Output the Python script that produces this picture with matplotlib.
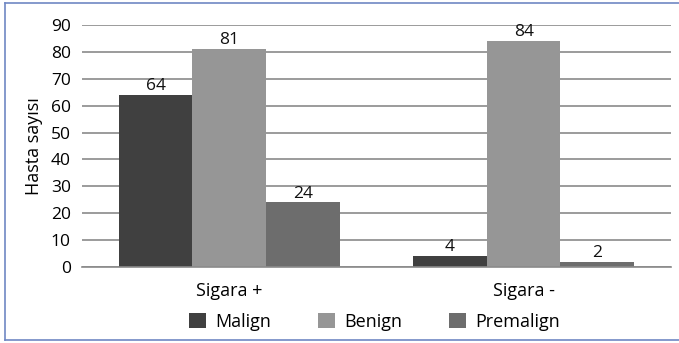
import matplotlib.pyplot as plt
import numpy as np
from matplotlib.lines import Line2D

plt.rcParams['font.family'] = ['Open Sans', 'DejaVu Sans']

# Patient counts by smoking status
groups = ['Sigara +', 'Sigara -']
series = ['Malign', 'Benign', 'Premalign']
malign = [64, 4]
benign = [81, 84]
premalign = [24, 2]
colors = ['#404040', '#969696', '#6d6d6d']
yticks = [0, 10, 20, 30, 40, 50, 60, 70, 80, 90]

fig = plt.figure(figsize=(6.79, 3.43), dpi=100)
ax = fig.add_axes([0.1208, 0.2216, 0.8672, 0.7055])

x = np.arange(len(groups))
width = 0.25
for i, (name, vals, c) in enumerate(zip(series, [malign, benign, premalign], colors)):
    pos = x + (i - 1) * width
    ax.bar(pos, vals, width, color=c, label=name, zorder=2)
    for px, v in zip(pos, vals):
        ax.text(px, v + 0.3, str(v), ha='center', va='bottom', fontsize=12.5, color='#111111')

ax.set_xlim(-0.5, 1.5)
ax.set_ylim(0, 90)
ax.set_yticks(yticks)
ax.set_xticks(x)
ax.set_xticklabels(groups, fontsize=13)
ax.tick_params(axis='y', labelsize=12.5, length=0, pad=8)
ax.tick_params(axis='x', length=0, pad=11)
ax.yaxis.grid(True, color='#8a8a8a', linewidth=1.2, zorder=0)
ax.set_axisbelow(True)
for s in ['left', 'right', 'top']:
    ax.spines[s].set_visible(False)
ax.spines['bottom'].set_color('#8a8a8a')
ax.spines['bottom'].set_linewidth(1.2)
ax.set_ylabel('Hasta sayısı', fontsize=13, labelpad=6)

ax.legend(loc='upper center', bbox_to_anchor=(0.497, -0.122), ncol=3, frameon=False,
          fontsize=13, handlelength=0.95, handleheight=0.95, columnspacing=2.6, handletextpad=0.5)

# Outer frame: left, top and bottom edges
frame = dict(color='#7088c4', linewidth=1.2, transform=fig.transFigure)
fig.lines.append(Line2D([0.0075, 1.0], [0.991, 0.991], **frame))
fig.lines.append(Line2D([0.0075, 1.0], [0.009, 0.009], **frame))
fig.lines.append(Line2D([0.0075, 0.0075], [0.009, 0.991], **frame))

fig.savefig('out.png', dpi=100)
